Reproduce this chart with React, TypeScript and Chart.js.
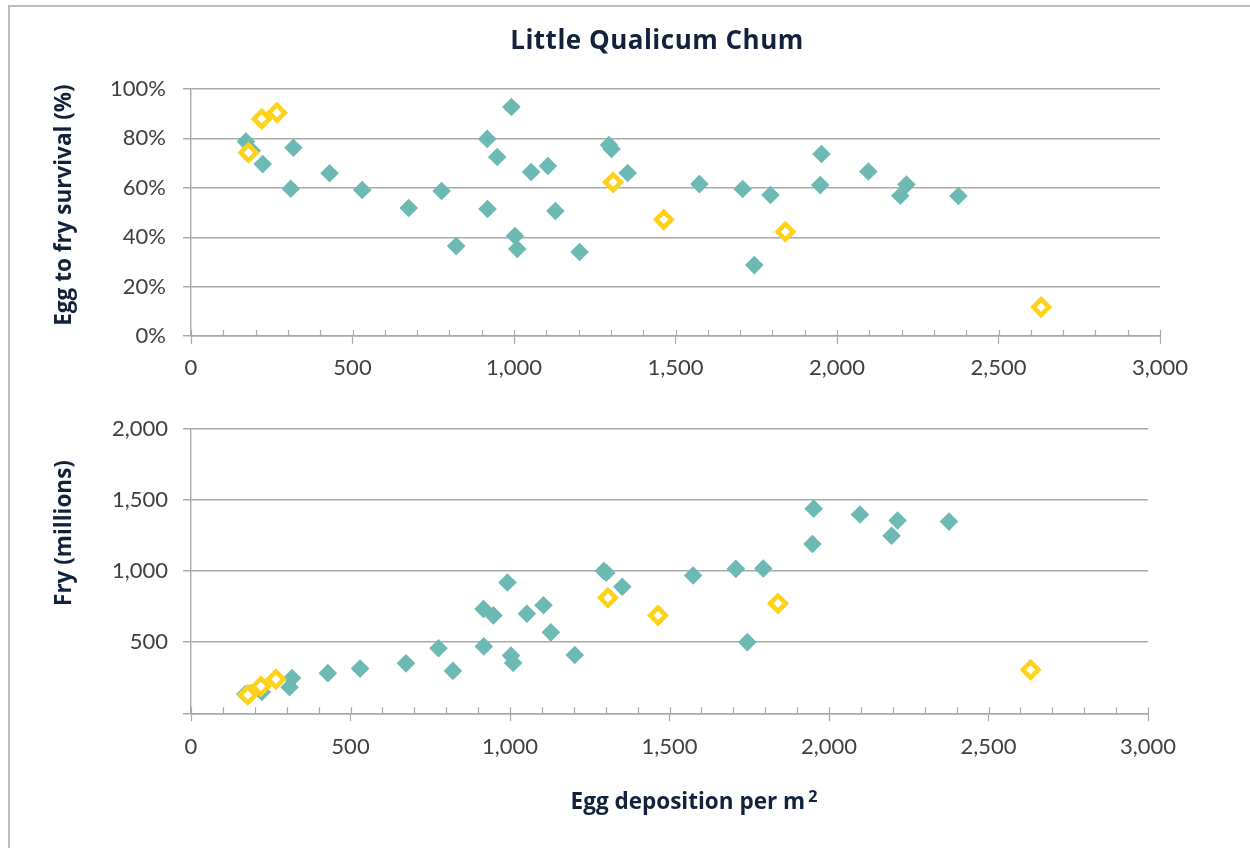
import React, { useEffect, useRef } from 'react';
import { Chart, registerables } from 'chart.js';

Chart.register(...registerables);

// Teal (filled diamonds) observations
const tealEggs = [170, 188, 222, 309, 317, 429, 530, 674, 776, 821, 917, 918, 948, 992, 1003, 1010, 1053, 1105, 1128, 1203, 1294, 1302, 1352, 1574, 1708, 1794, 1744, 1952, 1948, 2097, 2196, 2215, 2376];
const tealSurvival = [78.7, 75.0, 69.6, 59.6, 76.2, 65.9, 59.1, 51.8, 58.7, 36.4, 79.8, 51.4, 72.5, 92.7, 40.5, 35.2, 66.4, 68.8, 50.6, 34.0, 77.3, 75.7, 66.0, 61.5, 59.5, 57.1, 28.7, 73.7, 61.1, 66.6, 56.8, 61.3, 56.7];
const tealFry = [134, 141, 150, 183, 248, 282, 314, 351, 457, 298, 733, 470, 688, 919, 406, 353, 700, 759, 569, 410, 1000, 988, 889, 968, 1015, 1018, 500, 1438, 1190, 1397, 1248, 1355, 1347];

// Yellow (hollow diamonds) observations
const yellowEggs = [178, 219, 266, 1307, 1464, 1840, 2632];
const yellowSurvival = [74.2, 87.9, 90.4, 62.2, 47.1, 42.2, 11.7];
const yellowFry = [130, 189, 239, 812, 688, 772, 306];

const titleText = 'Little Qualicum Chum';
const survivalAxisTitle = 'Egg to fry survival (%)';
const fryAxisTitle = 'Fry (millions)';
const xAxisTitle = 'Egg deposition per m';

const X_MIN = 0, X_MAX = 3000, X_MINOR = 100, X_MAJOR = 500;
const SURV_MAX = 100, SURV_STEP = 20;
const FRY_MAX = 2000, FRY_STEP = 500;

const TEAL = '#6DBAB5';
const YELLOW = '#FFD21A';
const GRID = '#A9A9A9';
const TICK_TEXT = '#404040';
const DARK = '#13213A';
const FONT = 'Lato, "Open Sans", sans-serif';
const TITLE_FONT = '"Open Sans", Lato, sans-serif';

const innerTicks = {
  id: 'innerTicks',
  afterDraw(chart: any) {
    const s = chart.scales.x;
    const { ctx, chartArea } = chart;
    ctx.save();
    ctx.strokeStyle = GRID;
    ctx.lineWidth = 1.2;
    s.ticks.forEach((t: any) => {
      const px = Math.round(s.getPixelForValue(t.value)) + 0.5;
      ctx.beginPath();
      ctx.moveTo(px, chartArea.bottom);
      ctx.lineTo(px, chartArea.bottom - 6);
      ctx.stroke();
    });
    ctx.restore();
  },
};

function makeDatasets(ys1: number[], ys2: number[]) {
  return [
    {
      label: 'teal',
      data: tealEggs.map((x, i) => ({ x, y: ys1[i] })),
      pointStyle: 'rectRot',
      pointRadius: 9.3,
      pointHoverRadius: 9.3,
      backgroundColor: TEAL,
      borderColor: TEAL,
      borderWidth: 0,
      order: 1,
    },
    {
      label: 'yellow',
      data: yellowEggs.map((x, i) => ({ x, y: ys2[i] })),
      pointStyle: 'rectRot',
      pointRadius: 7.8,
      pointHoverRadius: 7.8,
      backgroundColor: '#FFFFFF',
      borderColor: YELLOW,
      borderWidth: 4.6,
      order: 0,
    },
  ];
}

function xScale(xHeight: number, pad: number) {
  return {
    type: 'linear',
    min: X_MIN,
    max: X_MAX,
    afterFit: (a: any) => { a.height = xHeight; },
    ticks: {
      stepSize: X_MINOR,
      autoSkip: false,
      maxRotation: 0,
      padding: pad,
      color: TICK_TEXT,
      font: { family: FONT, size: 22 },
      callback: (v: number) => (v % X_MAJOR === 0 ? v.toLocaleString('en-US') : ''),
    },
    grid: {
      drawOnChartArea: false,
      drawTicks: true,
      tickLength: 8,
      tickWidth: 1.2,
      tickColor: (c: any) => (c.tick && c.tick.value % X_MAJOR === 0 ? GRID : 'rgba(0,0,0,0)'),
    },
    border: { display: true, color: GRID, width: 1.4 },
  };
}

function yScale(max: number, step: number, fmt: (v: number) => string, pad: number) {
  return {
    type: 'linear',
    min: 0,
    max,
    afterFit: (a: any) => { a.width = 191; },
    ticks: {
      stepSize: step,
      padding: pad,
      color: TICK_TEXT,
      font: { family: FONT, size: 22 },
      callback: fmt,
    },
    grid: {
      color: GRID,
      lineWidth: 1.4,
      tickLength: 8,
      tickColor: GRID,
      tickWidth: 1.4,
    },
    border: { display: true, color: GRID, width: 1.4 },
  };
}

function useChart(ref: React.RefObject<HTMLCanvasElement>, config: () => any) {
  useEffect(() => {
    if (!ref.current) return;
    const c = new Chart(ref.current, config());
    return () => c.destroy();
  }, []);
}

export default function App() {
  const topRef = useRef<HTMLCanvasElement>(null);
  const botRef = useRef<HTMLCanvasElement>(null);

  useChart(topRef, () => ({
    type: 'scatter',
    data: { datasets: makeDatasets(tealSurvival, yellowSurvival) },
    options: {
      responsive: false,
      animation: false,
      layout: { padding: { left: 0, right: 90, top: 89, bottom: 0 } },
      plugins: { legend: { display: false }, tooltip: { enabled: false }, title: { display: false } },
      scales: {
        x: xScale(64, 11),
        y: yScale(SURV_MAX, SURV_STEP, (v: number) => `${v}%`, 17),
      },
    },
    plugins: [innerTicks],
  }));

  useChart(botRef, () => ({
    type: 'scatter',
    data: { datasets: makeDatasets(tealFry, yellowFry) },
    options: {
      responsive: false,
      animation: false,
      layout: { padding: { left: 0, right: 102, top: 28.7, bottom: 0 } },
      plugins: { legend: { display: false }, tooltip: { enabled: false }, title: { display: false } },
      scales: {
        x: xScale(134.7, 12),
        y: yScale(FRY_MAX, FRY_STEP, (v: number) => (v === 0 ? '' : v.toLocaleString('en-US')), 15),
      },
    },
    plugins: [innerTicks],
  }));

  const abs: React.CSSProperties = { position: 'absolute' };
  const axisTitle: React.CSSProperties = {
    ...abs,
    fontFamily: TITLE_FONT,
    fontWeight: 700,
    fontSize: 22.5,
    color: DARK,
    whiteSpace: 'nowrap',
    lineHeight: '28px',
  };

  return (
    <div style={{ position: 'absolute', left: 0, top: 0, width: 1250, height: 848, overflow: 'hidden', background: '#fff' }}>
      <div style={{ ...abs, left: 7.5, top: 5, width: 1400, height: 1000, borderLeft: '2.5px solid #BABAC2', borderTop: '2px solid #BABAC2' }} />
      <canvas ref={topRef} width={1250} height={400} style={{ ...abs, left: 0, top: 0 }} />
      <canvas ref={botRef} width={1250} height={448} style={{ ...abs, left: 0, top: 400 }} />
      <div style={{ ...axisTitle, fontSize: 26, letterSpacing: 0.5, left: 657, top: 38.5, transform: 'translate(-50%, -50%)' }}>{titleText}</div>
      <div style={{ ...axisTitle, left: 63, top: 205, transform: 'translate(-50%, -50%) rotate(-90deg)' }}>{survivalAxisTitle}</div>
      <div style={{ ...axisTitle, left: 63, top: 533, transform: 'translate(-50%, -50%) rotate(-90deg)' }}>{fryAxisTitle}</div>
      <div style={{ ...axisTitle, left: 694, top: 801, transform: 'translate(-50%, -50%)' }}>
        {xAxisTitle}
        <sup style={{ fontSize: '0.72em', marginLeft: 3, verticalAlign: '0.45em', lineHeight: 0 }}>2</sup>
      </div>
    </div>
  );
}
